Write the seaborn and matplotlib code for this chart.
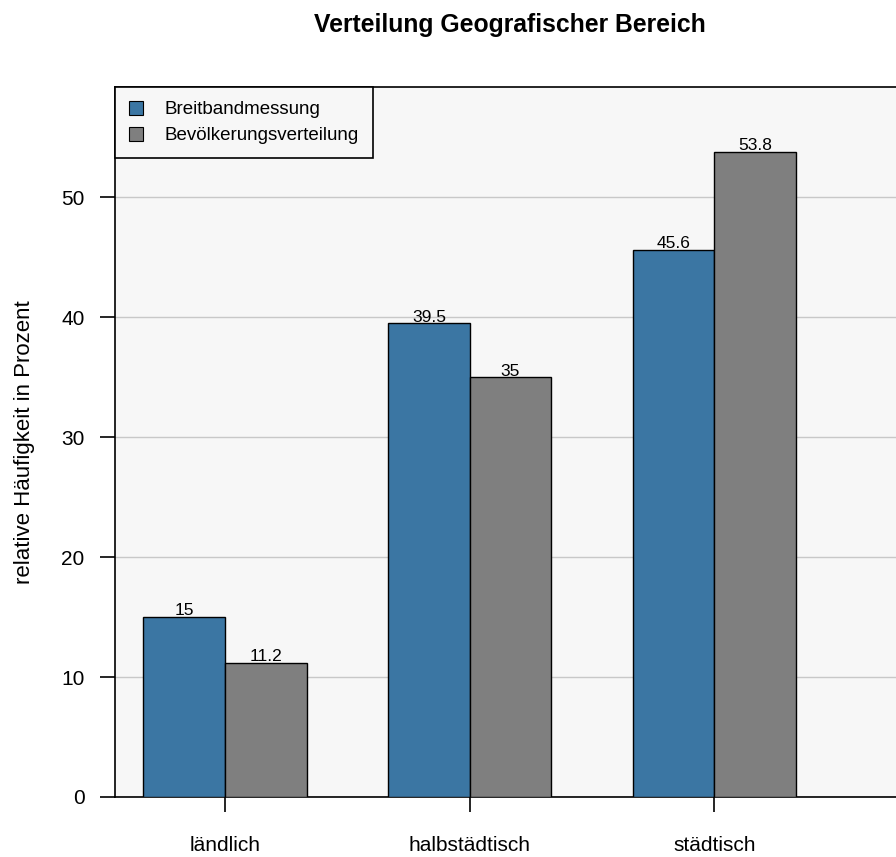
import pandas as pd
import numpy as np
import matplotlib.pyplot as plt
import seaborn as sns
from matplotlib.patches import Patch

sns.set_theme(style="white")
plt.rcParams['font.family'] = ['Liberation Sans', 'DejaVu Sans']
plt.rcParams['text.color'] = 'black'
plt.rcParams['axes.labelcolor'] = 'black'
plt.rcParams['xtick.color'] = 'black'
plt.rcParams['ytick.color'] = 'black'

# data
bereiche = ['ländlich', 'halbstädtisch', 'städtisch']
breitband = [15.0, 39.5, 45.6]
bevoelkerung = [11.2, 35.0, 53.8]
series = ['Breitbandmessung', 'Bevölkerungsverteilung']
farben = ['#3B76A3', '#7F7F7F']

df = pd.DataFrame({
    'Bereich': bereiche * 2,
    'Wert': breitband + bevoelkerung,
    'Serie': [series[0]] * 3 + [series[1]] * 3,
})

fig = plt.figure(figsize=(8.96, 8.57), dpi=100)
ax = fig.add_axes([115 / 896, 60 / 857, 790 / 896, 710 / 857])
ax.set_facecolor('#F7F7F7')

sns.barplot(data=df, x='Bereich', y='Wert', hue='Serie', palette=farben,
            width=0.667, edgecolor='black', linewidth=1.0, saturation=1,
            legend=False, ax=ax, zorder=3)

# value labels on top of bars
for cont in ax.containers:
    ax.bar_label(cont, labels=[f'{v:g}' for v in cont.datavalues],
                 padding=-1, fontsize=12.5, color='black', zorder=4)

ax.set_xlim(-0.45, 2.78)
ax.set_ylim(0, 59.2)
ax.set_yticks([0, 10, 20, 30, 40, 50])
ax.yaxis.grid(True, color='#C8C8C8', linewidth=1.0, zorder=0)
ax.set_axisbelow(True)

for s in ['top', 'left', 'bottom', 'right']:
    ax.spines[s].set_color('black')
    ax.spines[s].set_linewidth(1.2)

ax.tick_params(axis='y', direction='out', length=11, width=1.2, pad=11,
               labelsize=15, left=True)
ax.tick_params(axis='x', direction='out', length=11, width=1.2, pad=17,
               labelsize=15, bottom=True)

ax.set_xlabel('')
ax.set_ylabel('relative Häufigkeit in Prozent', fontsize=16, labelpad=19)

fig.suptitle('Verteilung Geografischer Bereich', fontsize=17.8, fontweight='bold',
             x=510 / 896, y=1 - 25 / 857, va='center')

handles = [Patch(facecolor=c, edgecolor='black', linewidth=0.8) for c in farben]
leg = ax.legend(handles, series, loc='upper left', bbox_to_anchor=(0, 1),
                borderaxespad=0, fancybox=False, framealpha=1,
                edgecolor='black', facecolor='#F7F7F7', fontsize=13.5,
                handlelength=0.75, handleheight=0.75, handletextpad=1.15,
                borderpad=0.75, labelspacing=0.45)
leg.get_frame().set_linewidth(1.2)

fig.savefig('out.png', dpi=100)
